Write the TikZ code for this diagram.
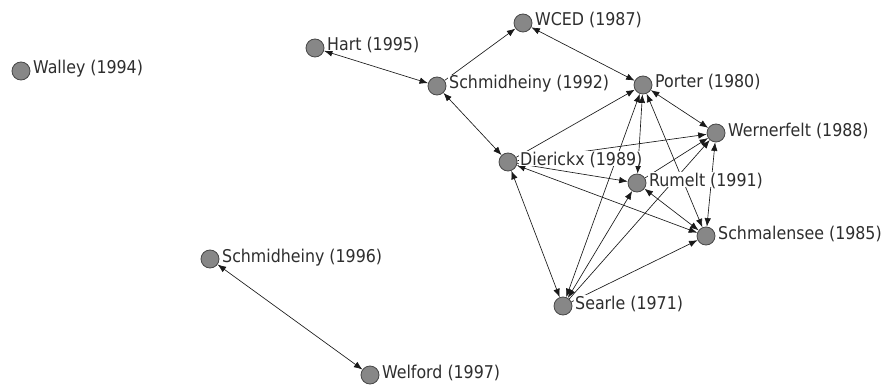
\documentclass[tikz,border=0pt]{standalone}
\usepackage{fontspec}
\setmainfont{DejaVu Sans Condensed}
\usetikzlibrary{arrows.meta}
\pgfdeclarelayer{edgelayer}
\pgfdeclarelayer{labellayer}
\pgfsetlayers{edgelayer,labellayer,main}
\tikzset{
 vert/.style={circle, draw=black!72, fill=black!47, line width=0.8pt, minimum size=18pt, inner sep=0pt},
 lbl/.style={anchor=base west, fill=white, inner xsep=1pt, inner ysep=0pt, text height=14pt, text depth=0.5pt, font=\fontsize{17.6}{20}\selectfont, text=black!82},
 tip/.tip={Latex[length=8.5pt,width=6.5pt]},
 bi/.style={line width=0.65pt, draw=black!90, tip-tip},
 uni/.style={line width=0.65pt, draw=black!90, -tip},
}
\begin{document}
\begin{tikzpicture}[x=1pt,y=-1pt]
\useasboundingbox (0,0) rectangle (883,385);
% vertices
\node[vert] (walley) at (21,71) {};
\node[vert] (hart) at (315,48) {};
\node[vert] (wced) at (523,23) {};
\node[vert] (s92) at (437,86) {};
\node[vert] (porter) at (643,85) {};
\node[vert] (wern) at (716,133) {};
\node[vert] (dier) at (508,162) {};
\node[vert] (rumelt) at (637,183) {};
\node[vert] (schmal) at (706,236) {};
\node[vert] (searle) at (563,306) {};
\node[vert] (s96) at (210,259) {};
\node[vert] (welford) at (370,375) {};
% labels
\begin{pgfonlayer}{labellayer}
\node[lbl] (walleyL) at ([shift={(11,3)}]walley.center) {Walley (1994)};
\node[lbl] (hartL) at ([shift={(11,3)}]hart.center) {Hart (1995)};
\node[lbl] (wcedL) at ([shift={(11,3)}]wced.center) {WCED (1987)};
\node[lbl] (s92L) at ([shift={(11,3)}]s92.center) {Schmidheiny (1992)};
\node[lbl] (porterL) at ([shift={(11,3)}]porter.center) {Porter (1980)};
\node[lbl] (wernL) at ([shift={(11,3)}]wern.center) {Wernerfelt (1988)};
\node[lbl] (dierL) at ([shift={(11,3)}]dier.center) {Dierickx (1989)};
\node[lbl] (rumeltL) at ([shift={(11,3)}]rumelt.center) {Rumelt (1991)};
\node[lbl] (schmalL) at ([shift={(11,3)}]schmal.center) {Schmalensee (1985)};
\node[lbl] (searleL) at ([shift={(11,3)}]searle.center) {Searle (1971)};
\node[lbl] (s96L) at ([shift={(11,3)}]s96.center) {Schmidheiny (1996)};
\node[lbl] (welfordL) at ([shift={(11,3)}]welford.center) {Welford (1997)};
\end{pgfonlayer}
% edges
\begin{pgfonlayer}{edgelayer}
\fill[white] (0,0) rectangle (883,385);
\draw[bi] (hart) -- (s92);
\draw[uni] (s92) -- (wced);
\draw[bi] (wced) -- (porter);
\draw[bi] (s92) -- (dier);
\draw[uni] (dier) -- (porter);
\draw[uni] (dier) -- (wern);
\draw[uni] (dier) -- (rumelt);
\draw[bi] (dier) -- (schmal);
\draw[bi] (dier) -- (searle);
\draw[bi] (porter) -- (wern);
\draw[bi] (porter) -- (rumelt);
\draw[bi] (porter) -- (schmal);
\draw[bi] (porter) -- (searle);
\draw[uni] (rumelt) -- (wern);
\draw[bi] (rumelt) -- (schmal);
\draw[bi] (rumelt) -- (searle);
\draw[uni] (searle) -- (wern);
\draw[uni] (searle) -- (schmal);
\draw[bi] (wern) -- (schmal);
\draw[bi] (s96) -- (welford);
\end{pgfonlayer}
\end{tikzpicture}
\end{document}
